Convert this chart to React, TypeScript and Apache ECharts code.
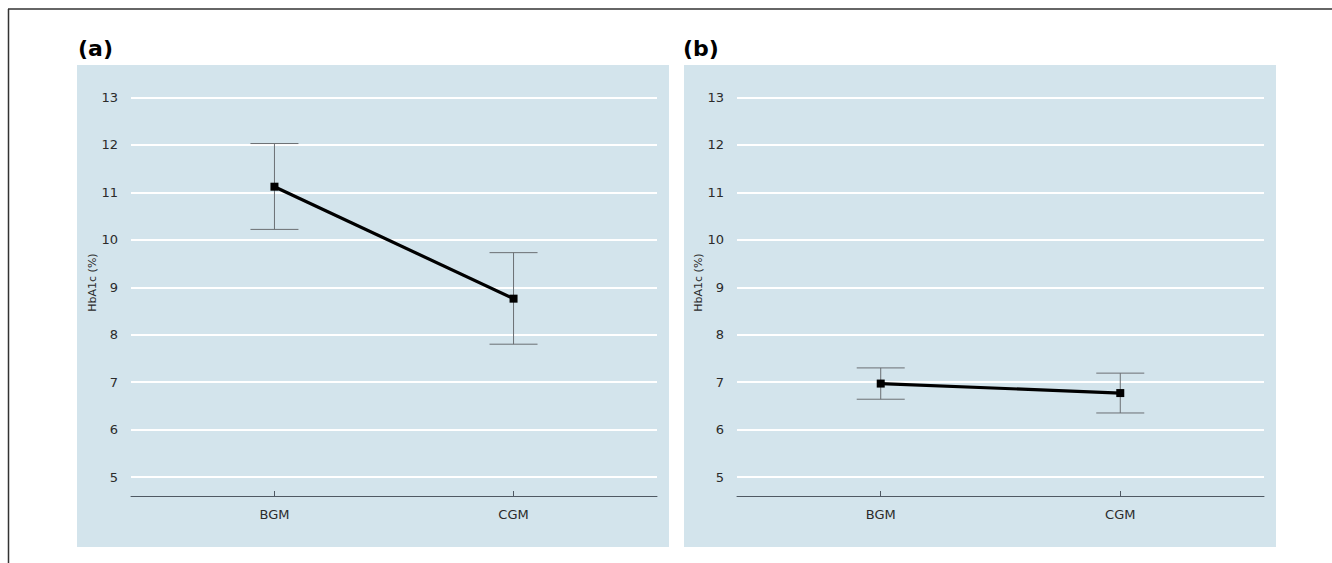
import React, { useEffect, useRef } from "react";
import * as echarts from "echarts";

const categories = ["BGM", "CGM"];
const yTicks = [5, 6, 7, 8, 9, 10, 11, 12, 13];
const xTicks = [0, 1];
const meanA = [11.12, 8.76];
const lowA = [10.22, 7.8];
const highA = [12.03, 9.73];
const meanB = [6.97, 6.77];
const lowB = [6.64, 6.35];
const highB = [7.3, 7.19];
const panelLabels = ["(a)", "(b)"];
const yAxisName = "HbA1c (%)";

const FONT = "DejaVu Sans";
const BG = "#d3e4ec";

function buildOption() {
  const grids = [
    { left: 131, width: 526, top: 69.06, height: 426.94 },
    { left: 737, width: 527, top: 69.06, height: 426.94 },
  ];
  const xAxes = grids.map((_, i) => ({
    type: "value",
    gridIndex: i,
    min: -0.6,
    max: 1.6,
    axisLine: { show: true, lineStyle: { color: "#4f5963", width: 1 } },
    axisTick: {
      show: true,
      inside: true,
      length: 5,
      customValues: xTicks,
      lineStyle: { color: "#4f5963", width: 1 },
    },
    axisLabel: {
      customValues: xTicks,
      formatter: (v: number) => categories[Math.round(v)] ?? "",
      color: "#2b2b2b",
      fontFamily: FONT,
      fontSize: 13,
      margin: 12,
    },
    splitLine: { show: false },
  }));
  const yAxes = grids.map((_, i) => ({
    type: "value",
    gridIndex: i,
    min: 4.6,
    max: 13.6,
    name: yAxisName,
    nameLocation: "middle",
    nameGap: 25,
    nameTextStyle: { color: "#2b2b2b", fontFamily: FONT, fontSize: 11 },
    axisLine: { show: false },
    axisTick: { show: false, customValues: yTicks },
    axisLabel: {
      customValues: yTicks,
      color: "#2b2b2b",
      fontFamily: FONT,
      fontSize: 13,
      margin: 13,
    },
    splitLine: { show: true, lineStyle: { color: "#ffffff", width: 2 } },
  }));

  const errRender = (params: any, api: any) => {
    const x = api.value(0);
    const lo = api.value(1);
    const hi = api.value(2);
    const pLo = api.coord([x, lo]);
    const pHi = api.coord([x, hi]);
    const hw = 24;
    const style = { stroke: "#6b6f73", lineWidth: 1 };
    return {
      type: "group",
      children: [
        { type: "line", shape: { x1: pLo[0], y1: pLo[1], x2: pHi[0], y2: pHi[1] }, style },
        { type: "line", shape: { x1: pLo[0] - hw, y1: pLo[1], x2: pLo[0] + hw, y2: pLo[1] }, style },
        { type: "line", shape: { x1: pHi[0] - hw, y1: pHi[1], x2: pHi[0] + hw, y2: pHi[1] }, style },
      ],
    };
  };

  const panels = [
    { mean: meanA, low: lowA, high: highA },
    { mean: meanB, low: lowB, high: highB },
  ];
  const series: any[] = [];
  panels.forEach((p, i) => {
    series.push({
      type: "custom",
      xAxisIndex: i,
      yAxisIndex: i,
      z: 1,
      renderItem: errRender,
      encode: { x: 0, y: [1, 2] },
      data: xTicks.map((x, k) => [x, p.low[k], p.high[k]]),
    });
    series.push({
      type: "line",
      xAxisIndex: i,
      yAxisIndex: i,
      z: 3,
      symbol: "rect",
      symbolSize: 8,
      lineStyle: { color: "#000", width: 3.2 },
      itemStyle: { color: "#000" },
      data: xTicks.map((x, k) => [x, p.mean[k]]),
    });
  });

  const graphic: any[] = [
    { type: "rect", z: -10, shape: { x: 77, y: 65, width: 592, height: 482 }, style: { fill: BG } },
    { type: "rect", z: -10, shape: { x: 684, y: 65, width: 592, height: 482 }, style: { fill: BG } },
    { type: "line", shape: { x1: 8, y1: 9, x2: 1332, y2: 9 }, style: { stroke: "#333", lineWidth: 1.5 } },
    { type: "line", shape: { x1: 8.5, y1: 9, x2: 8.5, y2: 563 }, style: { stroke: "#333", lineWidth: 1.5 } },
    {
      type: "text",
      x: 78,
      y: 48,
      style: { text: panelLabels[0], fill: "#000", font: `bold 22px "${FONT}"`, verticalAlign: "middle" },
    },
    {
      type: "text",
      x: 683,
      y: 48,
      style: { text: panelLabels[1], fill: "#000", font: `bold 22px "${FONT}"`, verticalAlign: "middle" },
    },
  ];

  return {
    animation: false,
    backgroundColor: "#ffffff",
    grid: grids,
    xAxis: xAxes,
    yAxis: yAxes,
    series,
    graphic,
  };
}

export default function App() {
  const ref = useRef<HTMLDivElement>(null);
  useEffect(() => {
    if (!ref.current) return;
    const chart = echarts.init(ref.current, undefined, { renderer: "svg" });
    chart.setOption(buildOption() as any);
    return () => chart.dispose();
  }, []);
  return (
    <div
      ref={ref}
      style={{ position: "fixed", left: 0, top: 0, width: 1332, height: 563 }}
    />
  );
}
